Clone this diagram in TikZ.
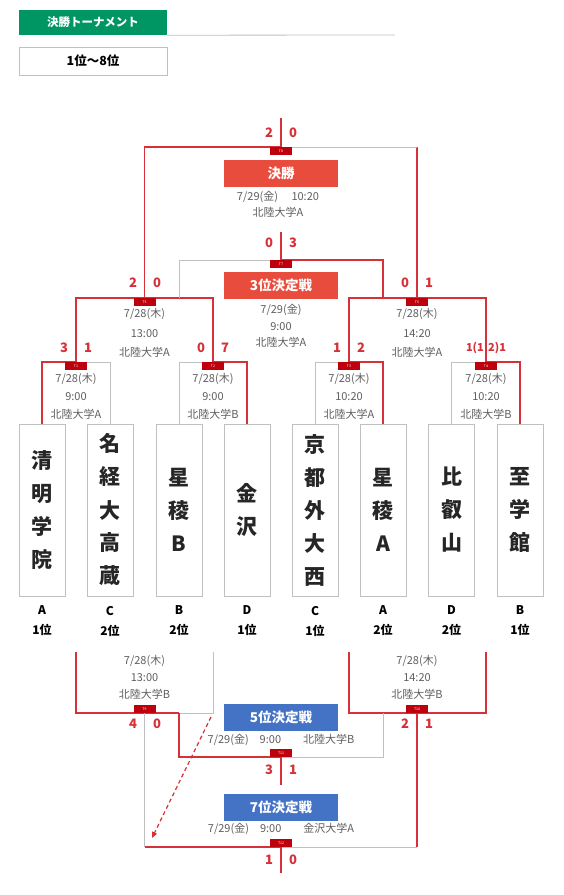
\documentclass[tikz,border=0pt]{standalone}
\usepackage{fontspec}
\setmainfont{Noto Sans CJK JP}
\usepackage{tikz}
\usetikzlibrary{arrows.meta, positioning, backgrounds, calc}
\definecolor{winred}{RGB}{214, 48, 56}
\definecolor{badgered}{RGB}{190, 0, 12}
\definecolor{titlered}{RGB}{232, 76, 61}
\definecolor{titleblue}{RGB}{68, 114, 196}
\definecolor{headgreen}{RGB}{0, 150, 100}
\definecolor{linegray}{RGB}{192, 192, 192}
\definecolor{infogray}{RGB}{95, 95, 95}

\begin{document}
\begin{tikzpicture}[x=1pt, y=-1pt,
    team/.style={draw=linegray, line width=0.8pt, minimum width=46pt, minimum height=172pt,
                 inner sep=0pt, align=center, text=black!85,
                 font=\fontsize{21}{33}\selectfont\bfseries},
    group/.style={align=center, font=\fontsize{12}{20}\selectfont\bfseries},
    win/.style={draw=winred, line width=1.4pt},
    lose/.style={draw=linegray, line width=0.9pt},
    badge/.style={fill=badgered, minimum width=22pt, minimum height=7.5pt, inner sep=0pt,
                  text=white, font=\fontsize{3.5}{4}\selectfont},
    score/.style={text=winred, inner sep=0pt, font=\fontsize{13}{14}\selectfont\bfseries},
    info/.style={text=infogray, align=center, font=\fontsize{11}{18}\selectfont},
    redtitle/.style={fill=titlered, minimum width=114pt, minimum height=27pt, text=white,
                     font=\fontsize{13.5}{15}\selectfont\bfseries},
    bluetitle/.style={redtitle, fill=titleblue}
]
    \useasboundingbox (0,0) rectangle (564,895);

    \node[fill=headgreen, minimum width=148pt, minimum height=25pt, text=white,
          font=\fontsize{11.5}{13}\selectfont\bfseries] (head) at (93,22.5) {決勝トーナメント};
    \node[draw=linegray, line width=0.8pt, minimum width=148pt, minimum height=28pt,
          font=\fontsize{12.5}{14}\selectfont\bfseries] (range) at (93,61) {1位～8位};

    \node[team] (t1) at (42,510) {清\\明\\学\\院};
    \node[team] (t2) at (110,510) {名\\経\\大\\高\\蔵};
    \node[team] (t3) at (179,510) {星\\稜\\B};
    \node[team] (t4) at (247,510) {金\\沢};
    \node[team] (t5) at (315,510) {京\\都\\外\\大\\西};
    \node[team] (t6) at (383,510) {星\\稜\\A};
    \node[team] (t7) at (451.5,510) {比\\叡\\山};
    \node[team] (t8) at (520,510) {至\\学\\館};

    \node[group] (g1) at (42,621) {A\\1位};
    \node[group] (g2) at (110,621) {C\\2位};
    \node[group] (g3) at (179,621) {B\\2位};
    \node[group] (g4) at (247,621) {D\\1位};
    \node[group] (g5) at (315,621) {C\\1位};
    \node[group] (g6) at (383,621) {A\\2位};
    \node[group] (g7) at (451.5,621) {D\\2位};
    \node[group] (g8) at (520,621) {B\\1位};

    \coordinate (m1) at (76,362);
    \coordinate (m2) at (213,362);
    \coordinate (m3) at (349,362);
    \coordinate (m4) at (486,362);
    \coordinate (m5) at (144.5,298);
    \coordinate (m6) at (417,298);
    \coordinate (m7) at (281,260);
    \coordinate (m8) at (281,147);
    \coordinate (m9) at (144.5,713);
    \coordinate (m10) at (417,713);
    \coordinate (m11) at (281,757);
    \coordinate (m12) at (281,847);
    \coordinate (top8) at (281,118);
    \coordinate (top7) at (281,232);
    \coordinate (l7) at (179,298);
    \coordinate (r7) at (383,298);
    \coordinate (q9l) at (76,652);
    \coordinate (q9r) at (213,652);
    \coordinate (q10l) at (349,652);
    \coordinate (q10r) at (486,652);
    \coordinate (l11) at (179,713);
    \coordinate (r11) at (383,713);
    \coordinate (bot11) at (281,785);
    \coordinate (bot12) at (281,873);
    \coordinate (dstart) at (211,717);
    \coordinate (dend) at (152,838);

    \foreach \m in {1,...,8}
        \node[badge, anchor=north] (b\m) at (m\m) {T\m};
    \foreach \m in {9,...,12}
        \node[badge, anchor=south] (b\m) at (m\m) {T\m};

    \node[redtitle] (final) at (281,173) {決勝};
    \node[redtitle] (third) at (281,285) {3位決定戦};
    \node[bluetitle] (fifth) at (281,717.5) {5位決定戦};
    \node[bluetitle] (seventh) at (281,807.5) {7位決定戦};

    \node[info, font=\fontsize{11}{16}\selectfont] (i8) at (278,204) {7/29(金)\quad\ 10:20\\北陸大学A};
    \node[info, font=\fontsize{11}{16.5}\selectfont] (i7) at (281,326) {7/29(金)\\9:00\\北陸大学A};
    \node[info, font=\fontsize{11}{19.5}\selectfont] (i5) at (144.5,333) {7/28(木)\\13:00\\北陸大学A};
    \node[info, font=\fontsize{11}{19.5}\selectfont] (i6) at (417,333) {7/28(木)\\14:20\\北陸大学A};
    \node[info] (i1) at (76,396) {7/28(木)\\9:00\\北陸大学A};
    \node[info] (i2) at (213,396) {7/28(木)\\9:00\\北陸大学B};
    \node[info] (i3) at (349,396) {7/28(木)\\10:20\\北陸大学A};
    \node[info] (i4) at (486,396) {7/28(木)\\10:20\\北陸大学B};
    \node[info, font=\fontsize{11}{17}\selectfont] (i9) at (144.5,677) {7/28(木)\\13:00\\北陸大学B};
    \node[info, font=\fontsize{11}{17}\selectfont] (i10) at (417,677) {7/28(木)\\14:20\\北陸大学B};
    \node[info] (i11) at (281,740) {7/29(金)\quad 9:00\qquad 北陸大学B};
    \node[info] (i12) at (281,829) {7/29(金)\quad 9:00\qquad 金沢大学A};

    \node[score] (s8a) at (269,133) {2};
    \node[score] (s8b) at (293,133) {0};
    \node[score] (s7a) at (269,243) {0};
    \node[score] (s7b) at (293,243) {3};
    \node[score] (s5a) at (133,283) {2};
    \node[score] (s5b) at (157,283) {0};
    \node[score] (s6a) at (405,283) {0};
    \node[score] (s6b) at (429,283) {1};
    \node[score] (s1a) at (64,348) {3};
    \node[score] (s1b) at (88,348) {1};
    \node[score] (s2a) at (201,348) {0};
    \node[score] (s2b) at (225,348) {7};
    \node[score] (s3a) at (337,348) {1};
    \node[score] (s3b) at (361,348) {2};
    \node[score, anchor=east, font=\fontsize{11}{12}\selectfont\bfseries] (s4a) at (484,348) {1(1};
    \node[score, anchor=west, font=\fontsize{11}{12}\selectfont\bfseries] (s4b) at (488,348) {2)1};
    \node[score] (s9a) at (133,724) {4};
    \node[score] (s9b) at (157,724) {0};
    \node[score] (s10a) at (405,724) {2};
    \node[score] (s10b) at (429,724) {1};
    \node[score] (s11a) at (269,770) {3};
    \node[score] (s11b) at (293,770) {1};
    \node[score] (s12a) at (269,860) {1};
    \node[score] (s12b) at (293,860) {0};

    \begin{scope}[on background layer]
        \fill[white] (0,0) rectangle (564,895);
        \draw[linegray, line width=0.8pt] (head.south east) -- (395,35);
        % quarter finals
        \draw[win] (t1.north) |- (m1);
        \draw[lose] (m1) -| (t2.north);
        \draw[lose] (t3.north) |- (m2);
        \draw[win] (m2) -| (t4.north);
        \draw[lose] (t5.north) |- (m3);
        \draw[win] (m3) -| (t6.north);
        \draw[lose] (t7.north) |- (m4);
        \draw[win] (m4) -| (t8.north);
        % semi finals, 3rd place, final
        \draw[win] (m1) |- (m5);
        \draw[win] (m2) |- (m5);
        \draw[win] (m3) |- (m6);
        \draw[win] (m4) |- (m6);
        \draw[lose] (l7) |- (m7);
        \draw[win] (r7) |- (m7);
        \draw[win] (m7) -- (top7);
        \draw[win] (m5) |- (m8);
        \draw[win] (m6) -- (m6 |- m8);
        \draw[lose] (m6 |- m8) -- (m8);
        \draw[win] (m8) -- (top8);
        % places 5 to 8
        \draw[win] (q9l) |- (l11);
        \draw[lose] (l11) -| (q9r);
        \draw[win] (q10l) |- (m10);
        \draw[win] (m10) -| (q10r);
        \draw[win] (l11) |- (m11);
        \draw[lose] (r11) |- (m11);
        \draw[win] (m11) -- (bot11);
        \draw[lose] (m9) -- (m9 |- m12);
        \draw[win] (m9 |- m12) -- (m12);
        \draw[win] (m10) -- (m10 |- m12);
        \draw[lose] (m10 |- m12) -- (m12);
        \draw[win] (m12) -- (bot12);
        \draw[winred, line width=1.2pt, dash pattern=on 4pt off 3pt,
              -{Triangle[length=6pt, width=5pt]}] (dstart) -- (dend);
    \end{scope}
\end{tikzpicture}
\end{document}
